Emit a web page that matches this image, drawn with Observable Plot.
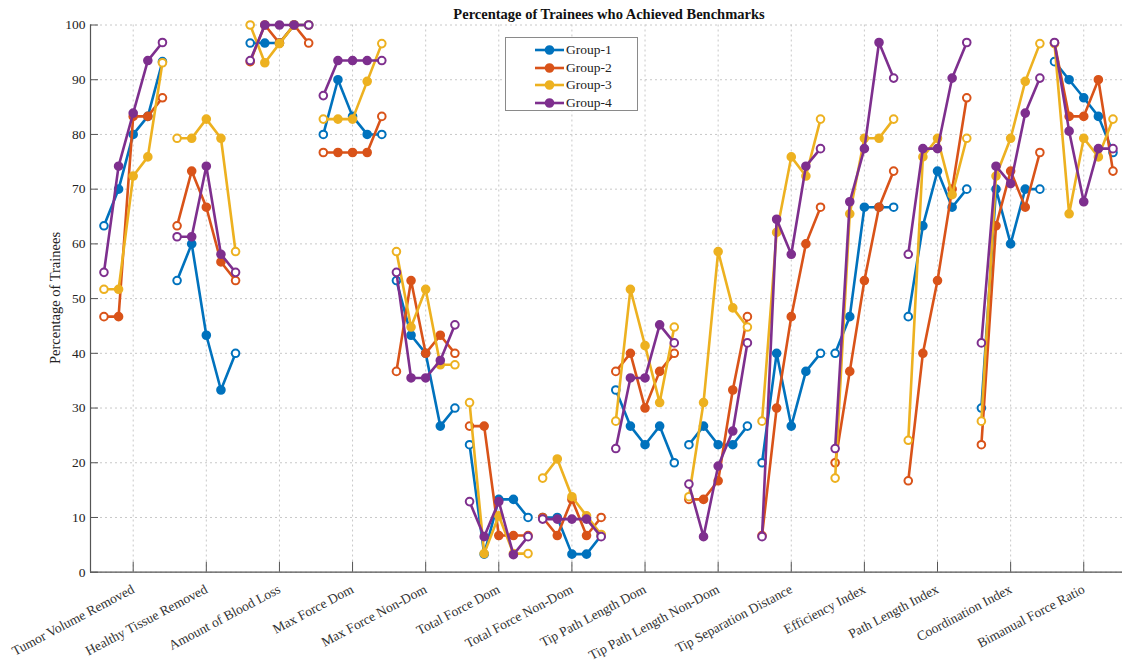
<!DOCTYPE html>
<html>
<head>
<meta charset="utf-8">
<script src="https://cdn.jsdelivr.net/npm/d3@7"></script>
<script src="https://cdn.jsdelivr.net/npm/@observablehq/plot@0.6"></script>
<style>
  body { margin: 0; background: #fff; font-family: "Liberation Serif", "Times New Roman", serif; }
  #wrap { position: relative; width: 1122px; height: 661px; }
  #title { position: absolute; top: 6px; left: 0; width: 1218px; text-align: center;
           font-weight: bold; font-size: 14.5px; color: #111; }
  #ylabel { position: absolute; left: 55px; top: 298px; transform: translate(-50%, -50%) rotate(-90deg);
            white-space: nowrap; font-size: 14.5px; color: #222; }
  #legend { position: absolute; left: 505px; top: 37px; width: 133px; height: 74px;
            border: 1px solid #8a8a8a; background: #fff; box-sizing: border-box; }
  .row { position: absolute; left: 0; height: 18px; display: flex; align-items: center; font-size: 13.5px; color: #222; }
  .row svg { margin-left: 29px; margin-right: 2px; }
</style>
</head>
<body>
<div id="wrap">
  <div id="chart"></div>
  <div id="title">Percentage of Trainees who Achieved Benchmarks</div>
  <div id="ylabel">Percentage of Trainees</div>
  <div id="legend"></div>
</div>
<script>
// Benchmarks on the x axis
const categories = [
  "Tumor Volume Removed", "Healthy Tissue Removed", "Amount of Blood Loss", "Max Force Dom",
  "Max Force Non-Dom", "Total Force Dom", "Total Force Non-Dom", "Tip Path Length Dom",
  "Tip Path Length Non-Dom", "Tip Separation Distance", "Efficiency Index", "Path Length Index",
  "Coordination Index", "Bimanual Force Ratio"
];

// Five sessions plotted side by side within each benchmark
const sessions = [1, 2, 3, 4, 5];

const groupNames = ["Group-1", "Group-2", "Group-3", "Group-4"];
const groupColors = ["#0072BD", "#D95319", "#EDB120", "#7E2F8E"];

// Percentage of trainees reaching each benchmark, one row of sessions per benchmark
const group1 = [
  [63.3, 70, 80, 83.3, 93.3],
  [53.3, 60, 43.3, 33.3, 40],
  [96.7, 96.7, 96.7, 100, 100],
  [80, 90, 83.3, 80, 80],
  [53.3, 43.3, 40, 26.7, 30],
  [23.3, 3.3, 13.3, 13.3, 10],
  [10, 10, 3.3, 3.3, 6.7],
  [33.3, 26.7, 23.3, 26.7, 20],
  [23.3, 26.7, 23.3, 23.3, 26.7],
  [20, 40, 26.7, 36.7, 40],
  [40, 46.7, 66.7, 66.7, 66.7],
  [46.7, 63.3, 73.3, 66.7, 70],
  [30, 70, 60, 70, 70],
  [93.3, 90, 86.7, 83.3, 76.7]
];
const group2 = [
  [46.7, 46.7, 83.3, 83.3, 86.7],
  [63.3, 73.3, 66.7, 56.7, 53.3],
  [93.3, 100, 96.7, 100, 96.7],
  [76.7, 76.7, 76.7, 76.7, 83.3],
  [36.7, 53.3, 40, 43.3, 40],
  [26.7, 26.7, 6.7, 6.7, 6.7],
  [10, 6.7, 13.3, 6.7, 10],
  [36.7, 40, 30, 36.7, 40],
  [13.3, 13.3, 16.7, 33.3, 46.7],
  [6.7, 30, 46.7, 60, 66.7],
  [20, 36.7, 53.3, 66.7, 73.3],
  [16.7, 40, 53.3, 70, 86.7],
  [23.3, 63.3, 73.3, 66.7, 76.7],
  [96.7, 83.3, 83.3, 90, 73.3]
];
const group3 = [
  [51.7, 51.7, 72.4, 75.9, 93.1],
  [79.3, 79.3, 82.8, 79.3, 58.6],
  [100, 93.1, 96.6, 100, 100],
  [82.8, 82.8, 82.8, 89.7, 96.6],
  [58.6, 44.8, 51.7, 37.9, 37.9],
  [31.0, 3.4, 10.3, 3.4, 3.4],
  [17.2, 20.7, 13.8, 10.3, 6.9],
  [27.6, 51.7, 41.4, 31.0, 44.8],
  [13.8, 31.0, 58.6, 48.3, 44.8],
  [27.6, 62.1, 75.9, 72.4, 82.8],
  [17.2, 65.5, 79.3, 79.3, 82.8],
  [24.1, 75.9, 79.3, 69.0, 79.3],
  [27.6, 72.4, 79.3, 89.7, 96.6],
  [96.6, 65.5, 79.3, 75.9, 82.8]
];
const group4 = [
  [54.8, 74.2, 83.9, 93.5, 96.8],
  [61.3, 61.3, 74.2, 58.1, 54.8],
  [93.5, 100, 100, 100, 100],
  [87.1, 93.5, 93.5, 93.5, 93.5],
  [54.8, 35.5, 35.5, 38.7, 45.2],
  [12.9, 6.5, 12.9, 3.2, 6.5],
  [9.7, 9.7, 9.7, 9.7, 6.5],
  [22.6, 35.5, 35.5, 45.2, 41.9],
  [16.1, 6.5, 19.4, 25.8, 41.9],
  [6.5, 64.5, 58.1, 74.2, 77.4],
  [22.6, 67.7, 77.4, 96.8, 90.3],
  [58.1, 77.4, 77.4, 90.3, 96.8],
  [41.9, 74.2, 71.0, 83.9, 90.3],
  [96.8, 80.6, 67.7, 77.4, 77.4]
];

const yTicks = [0, 10, 20, 30, 40, 50, 60, 70, 80, 90, 100];

// Long-format rows: sessions spread around each benchmark's tick
const allGroups = [group1, group2, group3, group4];
const rows = allGroups.map((g, gi) =>
  g.flatMap((vals, ci) => vals.map((v, si) => ({
    group: groupNames[gi],
    series: groupNames[gi] + "|" + ci,
    x: ci + 1 + (sessions[si] - 3) * 0.2,
    y: v,
    end: si === 0 || si === sessions.length - 1
  })))
);

const xTicks = categories.map((_, i) => i + 1);
const xDomain = [0.416, 14.53];
const font = "Liberation Serif, Times New Roman, serif";

const groupMarks = rows.flatMap((data, gi) => [
  Plot.line(data, {x: "x", y: "y", z: "series", stroke: groupColors[gi], strokeWidth: 2.6, curve: "linear"}),
  Plot.dot(data, {x: "x", y: "y", r: 3.8, stroke: groupColors[gi], strokeWidth: 2,
                  fill: d => d.end ? "#fff" : groupColors[gi]})
]);

const chart = Plot.plot({
  width: 1122,
  height: 661,
  marginLeft: 90,
  marginRight: 0,
  marginTop: 24.5,
  marginBottom: 89.3,
  style: {fontFamily: font, background: "#fff", color: "#222", overflow: "visible"},
  x: {domain: xDomain},
  y: {domain: [0, 100]},
  marks: [
    Plot.gridY(yTicks, {stroke: "#c8c8c8", strokeOpacity: 1, strokeDasharray: "2,3"}),
    Plot.gridX(xTicks, {stroke: "#c8c8c8", strokeOpacity: 1, strokeDasharray: "2,3"}),
    Plot.axisY(yTicks, {tickSize: 0, tickPadding: 5, fontSize: 13.5, label: null}),
    Plot.axisY(yTicks, {tickSize: -8, tickFormat: () => "", label: null, stroke: "#555"}),
    Plot.axisX(xTicks, {tickSize: 0, tickPadding: 16, tickRotate: -28, fontSize: 13.5,
                        tickFormat: i => categories[i - 1], label: null, fill: "#333"}),
    Plot.axisX(xTicks, {tickSize: -10, tickFormat: () => "", label: null, stroke: "#555"}),
    Plot.ruleX([xDomain[0]], {stroke: "#555", strokeWidth: 1.2}),
    Plot.ruleY([0], {stroke: "#555", strokeWidth: 1.2}),
    ...groupMarks
  ]
});
document.getElementById("chart").appendChild(chart);

// Legend: line with a filled marker for each group
const legend = document.getElementById("legend");
groupNames.forEach((name, i) => {
  const row = document.createElement("div");
  row.className = "row";
  row.style.top = (3 + i * 17.5) + "px";
  row.innerHTML =
    `<svg width="29" height="12"><line x1="0" y1="6" x2="29" y2="6" stroke="${groupColors[i]}" stroke-width="2.6"/>` +
    `<circle cx="14.5" cy="6" r="3.8" fill="${groupColors[i]}" stroke="${groupColors[i]}" stroke-width="2"/></svg>` +
    `<span>${name}</span>`;
  legend.appendChild(row);
});
</script>
</body>
</html>
